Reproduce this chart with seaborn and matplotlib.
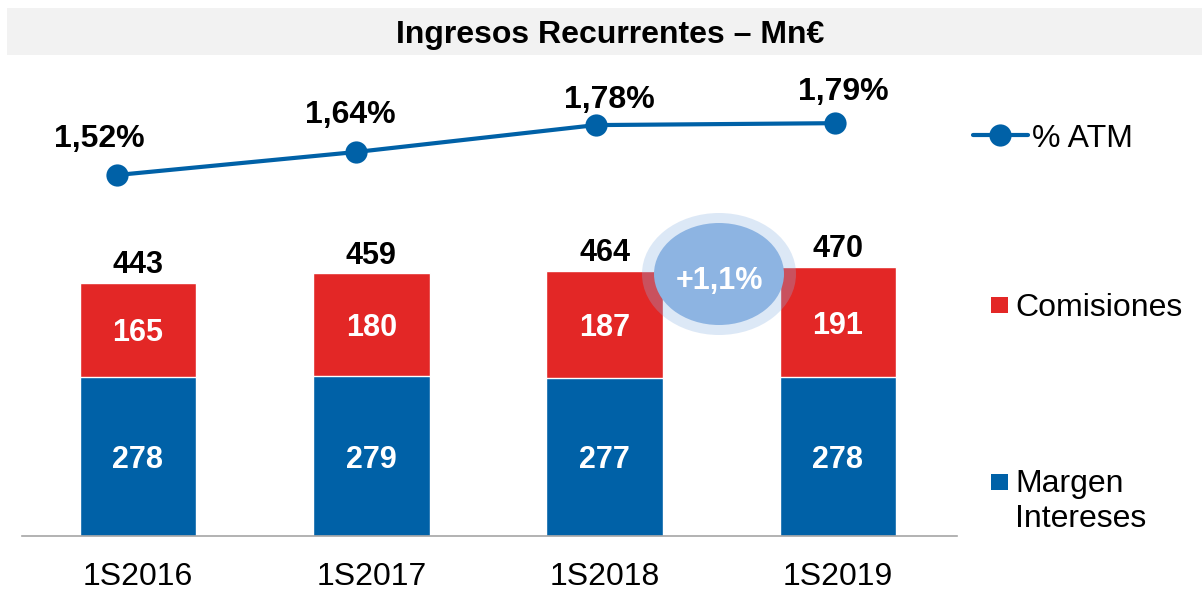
import numpy as np
import pandas as pd
import seaborn as sns
import matplotlib.pyplot as plt
from matplotlib.patches import Rectangle, Ellipse
from matplotlib.lines import Line2D

periodos = ["1S2016", "1S2017", "1S2018", "1S2019"]
margen = [278, 279, 277, 278]
comisiones = [165, 180, 187, 191]
totales = [443, 459, 464, 470]
atm = [1.52, 1.64, 1.78, 1.79]
atm_labels = ["1,52%", "1,64%", "1,78%", "1,79%"]
crecimiento = "+1,1%"

AZUL = "#0061a7"
ROJO = "#e32726"

sns.set_style("white")
plt.rcParams["font.family"] = ["Liberation Sans", "DejaVu Sans"]
plt.rcParams["text.color"] = "black"
plt.rcParams["xtick.color"] = "black"

W, H = 1202, 590
fig = plt.figure(figsize=(W / 100, H / 100), dpi=100)

def fx(px):
    return px / W

def fy(py):
    return 1 - py / H

# banda del titulo
fig.add_artist(Rectangle((fx(7), fy(55)), fx(1195), 47 / H, transform=fig.transFigure,
                         facecolor="#f2f2f2", edgecolor="none", zorder=0))
fig.text(fx(610), fy(31), "Ingresos Recurrentes \u2013 Mn\u20ac", ha="center",
         va="center_baseline", fontsize=23, fontweight="bold")

rect = [fx(22), fy(536), fx(957) - fx(22), (536 - 60) / H]
ax = fig.add_axes(rect)
df = pd.DataFrame({"periodo": periodos, "total": totales, "margen": margen})
sns.barplot(data=df, x="periodo", y="total", color=ROJO, width=0.5, saturation=1, ax=ax)
sns.barplot(data=df, x="periodo", y="margen", color=AZUL, width=0.5, saturation=1, ax=ax)
ax.set_xlim(-0.497, 3.51)
ax.set_ylim(0, 832)
ax.set_xlabel("")
ax.set_ylabel("")
ax.set_yticks([])
ax.tick_params(axis="x", length=0, labelsize=23, labelcolor="black", pad=19)
for s in ["top", "left", "right"]:
    ax.spines[s].set_visible(False)
ax.spines["bottom"].set_color("#a6a6a6")
ax.spines["bottom"].set_linewidth(1.2)

for i in range(len(periodos)):
    ax.text(i, margen[i] / 2, str(margen[i]), ha="center", va="center_baseline",
            color="white", fontsize=22, fontweight="bold")
    ax.text(i, margen[i] + comisiones[i] / 2, str(comisiones[i]), ha="center",
            va="center_baseline", color="white", fontsize=22, fontweight="bold")
    ax.annotate(str(totales[i]), (i, totales[i]), xytext=(0, 2), textcoords="offset points",
                ha="center", va="bottom", fontsize=22, fontweight="bold", color="black")

# linea % ATM
ax2 = fig.add_axes(rect)
ax2.patch.set_visible(False)
sns.lineplot(x=np.arange(len(atm)), y=atm, color=AZUL, linewidth=3, marker="o",
             markersize=16, markeredgewidth=0, ax=ax2)
ax2.set_xlim(-0.397, 3.51)
ax2.set_ylim(-0.360, 2.119)
ax2.axis("off")
dx = [-13, -4, 10, 6]
dy = [15, 15.5, 7, 12]
for i, lab in enumerate(atm_labels):
    ax2.annotate(lab, (i, atm[i]), xytext=(dx[i], dy[i]), textcoords="offset points",
                 ha="center", va="bottom", fontsize=23, fontweight="bold", color="black")

# elipse de crecimiento
fig.add_artist(Ellipse((fx(719), fy(274)), 154 / W, 122 / H, transform=fig.transFigure,
                       facecolor="#8db4e2", alpha=0.3, edgecolor="none", zorder=5))
fig.add_artist(Ellipse((fx(719), fy(274)), 130 / W, 102 / H, transform=fig.transFigure,
                       facecolor="#8db4e2", edgecolor="none", zorder=6))
fig.text(fx(719), fy(278), crecimiento, ha="center", va="center_baseline", color="white",
         fontsize=22, fontweight="bold", zorder=7)

# leyenda
fig.add_artist(Line2D([fx(973), fx(1028)], [fy(135), fy(135)], transform=fig.transFigure,
                      color=AZUL, linewidth=3, zorder=5))
fig.add_artist(Line2D([fx(1000)], [fy(135)], transform=fig.transFigure, color=AZUL,
                      marker="o", markersize=16, markeredgewidth=0, zorder=6))
fig.text(fx(1032), fy(135), "% ATM", ha="left", va="center_baseline", fontsize=23)
fig.add_artist(Rectangle((fx(991), fy(313)), 17 / W, 16 / H, transform=fig.transFigure,
                         facecolor=ROJO, edgecolor="none"))
fig.text(fx(1015), fy(305), "Comisiones", ha="left", va="center_baseline", fontsize=23)
fig.add_artist(Rectangle((fx(991), fy(490)), 17 / W, 16 / H, transform=fig.transFigure,
                         facecolor=AZUL, edgecolor="none"))
fig.text(fx(1015), fy(469), "Margen\nIntereses", ha="left", va="top", fontsize=23,
         linespacing=1.22)

fig.savefig("out.png", dpi=100)
